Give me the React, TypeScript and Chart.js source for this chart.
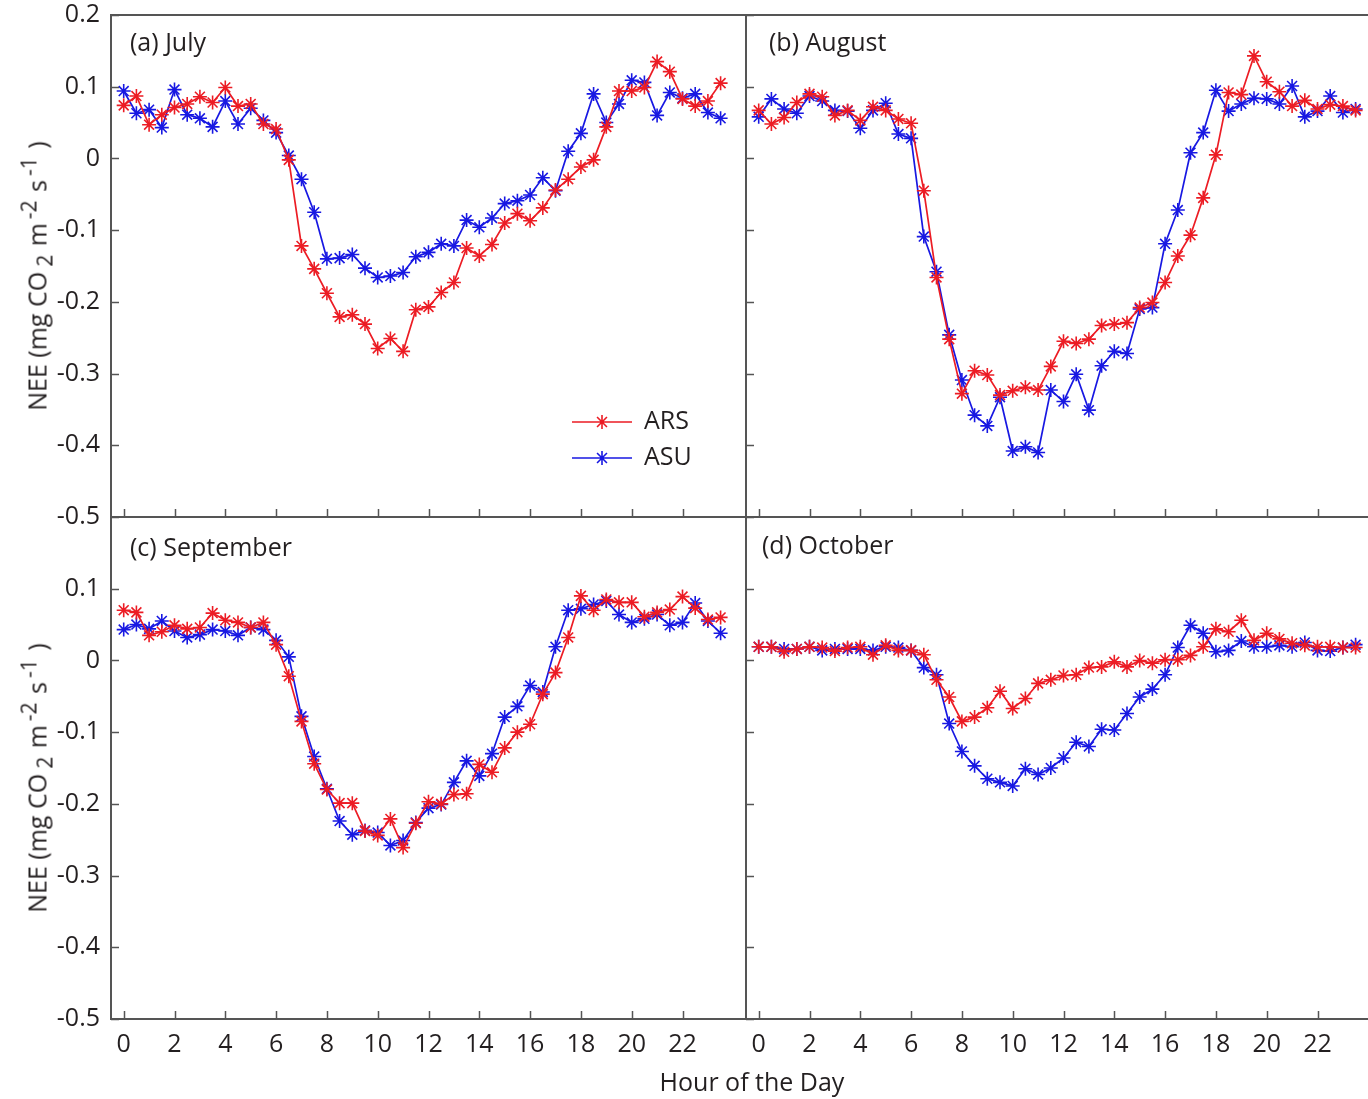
import React, { useEffect, useRef } from 'react';
import { Chart, registerables } from 'chart.js';

Chart.register(...registerables);

// Half-hourly mean diurnal NEE cycles at the ARS and ASU towers
const hours = [
  0, 0.5, 1, 1.5, 2, 2.5, 3, 3.5, 4, 4.5, 5, 5.5, 6, 6.5, 7, 7.5, 8, 8.5, 9, 9.5, 10, 10.5, 11, 11.5,
  12, 12.5, 13, 13.5, 14, 14.5, 15, 15.5, 16, 16.5, 17, 17.5, 18, 18.5, 19, 19.5, 20, 20.5, 21, 21.5,
  22, 22.5, 23, 23.5,
];

const julyARS = [
  0.074, 0.087, 0.047, 0.061, 0.071, 0.076, 0.086, 0.078, 0.099, 0.073, 0.076, 0.048, 0.041,
  -0.002, -0.122, -0.154, -0.188, -0.221, -0.218, -0.231, -0.265, -0.251, -0.269, -0.211,
  -0.207, -0.187, -0.173, -0.125, -0.136, -0.12, -0.09, -0.077, -0.087, -0.069, -0.044, -0.029,
  -0.012, -0.002, 0.044, 0.094, 0.094, 0.099, 0.135, 0.121, 0.083, 0.073, 0.08, 0.105,
];
const julyASU = [
  0.094, 0.063, 0.068, 0.043, 0.096, 0.061, 0.056, 0.044, 0.08, 0.048, 0.07, 0.053, 0.036,
  0.004, -0.029, -0.075, -0.14, -0.139, -0.134, -0.153, -0.166, -0.164, -0.159, -0.137,
  -0.131, -0.119, -0.122, -0.086, -0.096, -0.083, -0.063, -0.059, -0.051, -0.027, -0.045, 0.01,
  0.035, 0.09, 0.05, 0.076, 0.109, 0.106, 0.06, 0.092, 0.084, 0.09, 0.064, 0.056,
];

const augARS = [
  0.067, 0.048, 0.057, 0.078, 0.09, 0.086, 0.06, 0.067, 0.053, 0.072, 0.067, 0.055, 0.049,
  -0.045, -0.166, -0.252, -0.328, -0.296, -0.302, -0.33, -0.324, -0.319, -0.323, -0.29,
  -0.255, -0.258, -0.252, -0.233, -0.231, -0.229, -0.208, -0.201, -0.173, -0.136, -0.107, -0.055,
  0.005, 0.092, 0.089, 0.143, 0.107, 0.093, 0.073, 0.081, 0.069, 0.075, 0.073, 0.067,
];
const augASU = [
  0.058, 0.083, 0.069, 0.063, 0.087, 0.08, 0.067, 0.066, 0.042, 0.067, 0.077, 0.034, 0.028,
  -0.109, -0.158, -0.246, -0.309, -0.358, -0.373, -0.333, -0.408, -0.402, -0.41, -0.323,
  -0.339, -0.301, -0.351, -0.289, -0.269, -0.272, -0.21, -0.208, -0.119, -0.072, 0.008, 0.036,
  0.095, 0.066, 0.076, 0.084, 0.083, 0.076, 0.101, 0.058, 0.066, 0.087, 0.064, 0.069,
];

const sepARS = [
  0.07, 0.067, 0.035, 0.04, 0.049, 0.044, 0.046, 0.066, 0.056, 0.053, 0.046, 0.053, 0.022,
  -0.022, -0.085, -0.144, -0.18, -0.199, -0.199, -0.238, -0.244, -0.221, -0.261, -0.227,
  -0.197, -0.2, -0.187, -0.186, -0.145, -0.156, -0.122, -0.1, -0.089, -0.047, -0.017, 0.032,
  0.09, 0.07, 0.085, 0.081, 0.081, 0.061, 0.067, 0.071, 0.089, 0.073, 0.057, 0.06,
];
const sepASU = [
  0.043, 0.05, 0.044, 0.055, 0.041, 0.032, 0.036, 0.043, 0.041, 0.035, 0.046, 0.043, 0.028,
  0.005, -0.078, -0.134, -0.179, -0.224, -0.243, -0.237, -0.24, -0.258, -0.251, -0.226,
  -0.206, -0.201, -0.17, -0.14, -0.161, -0.13, -0.079, -0.064, -0.035, -0.044, 0.019, 0.07,
  0.072, 0.078, 0.083, 0.064, 0.053, 0.058, 0.064, 0.049, 0.053, 0.08, 0.055, 0.038,
];

const octARS = [
  0.019, 0.019, 0.012, 0.016, 0.019, 0.018, 0.013, 0.018, 0.019, 0.008, 0.021, 0.014, 0.014,
  0.008, -0.027, -0.051, -0.085, -0.079, -0.066, -0.043, -0.067, -0.053, -0.032, -0.027,
  -0.021, -0.02, -0.01, -0.009, -0.002, -0.009, 0.0, -0.004, 0.001, 0.001, 0.007, 0.019,
  0.044, 0.04, 0.056, 0.028, 0.038, 0.03, 0.024, 0.021, 0.019, 0.019, 0.018, 0.018,
];
const octASU = [
  0.019, 0.019, 0.016, 0.016, 0.019, 0.014, 0.016, 0.016, 0.016, 0.014, 0.019, 0.018, 0.014,
  -0.01, -0.02, -0.088, -0.127, -0.147, -0.165, -0.17, -0.175, -0.151, -0.159, -0.15,
  -0.136, -0.114, -0.12, -0.096, -0.097, -0.074, -0.051, -0.04, -0.02, 0.018, 0.049, 0.038,
  0.012, 0.014, 0.027, 0.019, 0.019, 0.021, 0.019, 0.025, 0.014, 0.013, 0.018, 0.022,
];

const hourTicks = [0, 2, 4, 6, 8, 10, 12, 14, 16, 18, 20, 22];
const neeTicksTop = [0.2, 0.1, 0, -0.1, -0.2, -0.3, -0.4, -0.5];
const neeTicksBottom = [0.1, 0, -0.1, -0.2, -0.3, -0.4, -0.5];
const seriesNames = ['ARS', 'ASU'];

const FONT = '"Open Sans", "Noto Sans", sans-serif';
const FONT_SIZE = 25;
const RED = 'rgb(236, 28, 36)';
const BLUE = 'rgb(24, 24, 226)';
const AXIS = '#555555';
const TEXT = '#231f20';

type PanelSpec = {
  title: string;
  ars: number[];
  asu: number[];
  col: 0 | 1;
  row: 0 | 1;
  titleDx: number;
  titleDy: number;
  legend: boolean;
};

const panels: PanelSpec[] = [
  { title: '(a) July', ars: julyARS, asu: julyASU, col: 0, row: 0, titleDx: 19, titleDy: 29, legend: true },
  { title: '(b) August', ars: augARS, asu: augASU, col: 1, row: 0, titleDx: 23, titleDy: 29, legend: false },
  { title: '(c) September', ars: sepARS, asu: sepASU, col: 0, row: 1, titleDx: 19, titleDy: 32, legend: false },
  { title: '(d) October', ars: octARS, asu: octASU, col: 1, row: 1, titleDx: 16, titleDy: 30, legend: false },
];

// Frame, inward tick marks, panel title and the in-panel legend
const framePlugin = {
  id: 'panelFrame',
  afterDatasetsDraw(chart: any, _args: any, opts: any) {
    const { ctx, chartArea: a, scales } = chart;
    ctx.save();
    ctx.strokeStyle = AXIS;
    ctx.lineWidth = 1.5;
    ctx.beginPath();
    for (const t of scales.x.ticks) {
      const px = Math.round(scales.x.getPixelForValue(t.value)) + 0.5;
      ctx.moveTo(px, a.bottom);
      ctx.lineTo(px, a.bottom - 8);
    }
    for (const t of scales.y.ticks) {
      const py = Math.round(scales.y.getPixelForValue(t.value)) + 0.5;
      ctx.moveTo(a.left, py);
      ctx.lineTo(a.left + 8, py);
    }
    ctx.stroke();
    ctx.lineWidth = 2;
    ctx.strokeRect(a.left, a.top, a.right - a.left, a.bottom - a.top);

    ctx.fillStyle = TEXT;
    ctx.font = `${FONT_SIZE}px ${FONT}`;
    ctx.textBaseline = 'middle';
    ctx.textAlign = 'left';
    ctx.fillText(opts.title, a.left + opts.titleDx, a.top + opts.titleDy);

    if (opts.legend) {
      const colors = [RED, BLUE];
      seriesNames.forEach((name, i) => {
        const y = a.top + 407 + i * 36;
        const x0 = a.left + 461;
        const x1 = a.left + 521;
        const xm = (x0 + x1) / 2;
        ctx.strokeStyle = colors[i];
        ctx.lineWidth = 1.6;
        ctx.beginPath();
        ctx.moveTo(x0, y);
        ctx.lineTo(x1, y);
        const r = 7;
        const d = r * Math.SQRT1_2;
        ctx.moveTo(xm, y - r);
        ctx.lineTo(xm, y + r);
        ctx.moveTo(xm - d, y - d);
        ctx.lineTo(xm + d, y + d);
        ctx.moveTo(xm - d, y + d);
        ctx.lineTo(xm + d, y - d);
        ctx.stroke();
        ctx.fillStyle = TEXT;
        ctx.fillText(name, a.left + 533, y);
      });
    }
    ctx.restore();
  },
};

// Canvas placement; the margins leave room for tick labels around each plot area
function geometry(spec: PanelSpec) {
  const isLeft = spec.col === 0;
  const isTop = spec.row === 0;
  return {
    left: isLeft ? 0 : 736,
    width: isLeft ? 750 : 649,
    top: isTop ? -11 : 491,
    height: isTop ? 554 : 608,
    padLeft: isLeft ? 0 : 10,
    padRight: 4,
    padTop: 26,
    padBottom: isTop ? 26 : 0,
  };
}

function buildConfig(spec: PanelSpec): any {
  const isLeft = spec.col === 0;
  const isTop = spec.row === 0;
  const g = geometry(spec);
  const yTicks = isTop ? neeTicksTop : neeTicksBottom;
  const series = [
    { name: seriesNames[0], values: spec.ars, color: RED },
    { name: seriesNames[1], values: spec.asu, color: BLUE },
  ];
  return {
    type: 'line',
    data: {
      datasets: series.map((s) => ({
        label: s.name,
        data: hours.map((h, i) => ({ x: h, y: s.values[i] })),
        borderColor: s.color,
        backgroundColor: s.color,
        pointBorderColor: s.color,
        pointStyle: 'star',
        pointRadius: 7,
        pointBorderWidth: 1.6,
        borderWidth: 1.7,
        tension: 0,
        fill: false,
      })),
    },
    options: {
      responsive: false,
      animation: false,
      devicePixelRatio: 1,
      events: [],
      layout: {
        autoPadding: false,
        padding: { left: g.padLeft, right: g.padRight, top: g.padTop, bottom: g.padBottom },
      },
      plugins: {
        legend: { display: false },
        tooltip: { enabled: false },
        panelFrame: { title: spec.title, titleDx: spec.titleDx, titleDy: spec.titleDy, legend: spec.legend },
      },
      scales: {
        x: {
          type: 'linear',
          min: -0.5,
          max: 24.5,
          grid: { display: false, drawTicks: false },
          border: { display: false },
          afterBuildTicks: (scale: any) => {
            scale.ticks = hourTicks.map((v) => ({ value: v }));
          },
          afterFit: (scale: any) => {
            scale.height = isTop ? 0 : 80;
          },
          ticks: {
            display: !isTop,
            autoSkip: false,
            maxRotation: 0,
            padding: 11,
            color: TEXT,
            font: { family: FONT, size: FONT_SIZE },
            callback: (v: number) => String(v),
          },
        },
        y: {
          type: 'linear',
          min: -0.5,
          max: 0.2,
          grid: { display: false, drawTicks: false },
          border: { display: false },
          afterBuildTicks: (scale: any) => {
            scale.ticks = yTicks.map((v) => ({ value: v }));
          },
          afterFit: (scale: any) => {
            scale.width = isLeft ? 111 : 0;
          },
          ticks: {
            display: isLeft,
            autoSkip: false,
            padding: 11,
            color: TEXT,
            font: { family: FONT, size: FONT_SIZE },
            callback: (v: number) => (Math.abs(v) < 1e-9 ? '0' : v.toFixed(1)),
          },
        },
      },
    },
    plugins: [framePlugin],
  };
}

function Panel({ spec }: { spec: PanelSpec }) {
  const ref = useRef<HTMLCanvasElement>(null);
  const g = geometry(spec);
  useEffect(() => {
    if (!ref.current) return;
    const chart = new Chart(ref.current, buildConfig(spec));
    return () => chart.destroy();
  }, [spec]);
  return (
    <canvas
      ref={ref}
      width={g.width}
      height={g.height}
      style={{ position: 'absolute', left: g.left, top: g.top, width: g.width, height: g.height }}
    />
  );
}

function NeeLabel({ cy }: { cy: number }) {
  const sub: React.CSSProperties = { fontSize: '0.84em', position: 'relative', top: '0.3em', marginLeft: 5, marginRight: 2 };
  const sup: React.CSSProperties = { fontSize: '0.84em', position: 'relative', top: '-0.48em', marginLeft: 4, marginRight: 2 };
  return (
    <div
      style={{
        position: 'absolute',
        left: 37,
        top: cy,
        transform: 'translate(-50%, -50%) rotate(-90deg)',
        whiteSpace: 'nowrap',
        fontFamily: FONT,
        fontSize: FONT_SIZE,
        color: TEXT,
        lineHeight: 1,
      }}
    >
      NEE (mg CO<span style={sub}>2</span> m<span style={sup}>-2</span> s<span style={sup}>-1</span> )
    </div>
  );
}

export default function App() {
  return (
    <div
      style={{
        position: 'absolute',
        left: 0,
        top: 0,
        width: 1368,
        height: 1099,
        overflow: 'hidden',
        background: '#ffffff',
      }}
    >
      {panels.map((p) => (
        <Panel key={p.title} spec={p} />
      ))}
      <NeeLabel cy={276} />
      <NeeLabel cy={778} />
      <div
        style={{
          position: 'absolute',
          left: 752,
          top: 1081,
          transform: 'translate(-50%, -50%)',
          whiteSpace: 'nowrap',
          fontFamily: FONT,
          fontSize: FONT_SIZE,
          color: TEXT,
          lineHeight: 1,
        }}
      >
        Hour of the Day
      </div>
    </div>
  );
}
